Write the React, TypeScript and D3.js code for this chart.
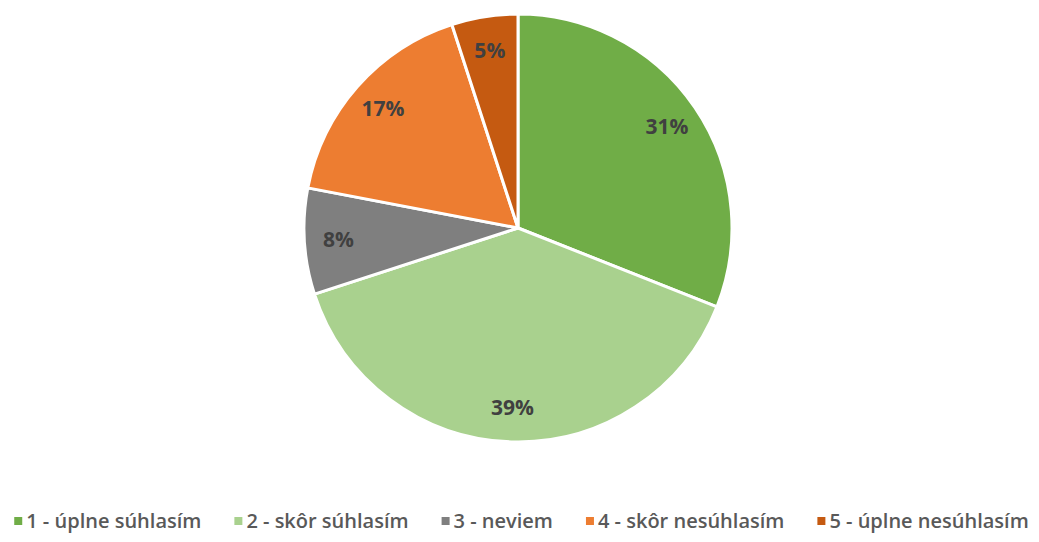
import React, { useRef, useEffect } from "react";
import * as d3 from "d3";

const categories = [
  "1 - úplne súhlasím",
  "2 - skôr súhlasím",
  "3 - neviem",
  "4 - skôr nesúhlasím",
  "5 - úplne nesúhlasím",
];
const values = [31, 39, 8, 17, 5];
const colors = ["#70ad47", "#a9d18e", "#7f7f7f", "#ed7d31", "#c55a11"];

const width = 1039;
const height = 542;

const App: React.FC = () => {
  const ref = useRef<SVGSVGElement | null>(null);

  useEffect(() => {
    const svg = d3.select(ref.current);
    svg.selectAll("*").remove();

    const cx = 518;
    const cy = 228;
    const radius = 214;

    const pie = d3
      .pie<number>()
      .value((d) => d)
      .sort(null);
    const arcs = pie(values);

    const arc = d3.arc<d3.PieArcDatum<number>>().innerRadius(0).outerRadius(radius);
    const labelArc = d3
      .arc<d3.PieArcDatum<number>>()
      .innerRadius(180)
      .outerRadius(180);

    const g = svg.append("g").attr("transform", `translate(${cx},${cy})`);

    g.selectAll("path")
      .data(arcs)
      .enter()
      .append("path")
      .attr("d", arc)
      .attr("fill", (d, i) => colors[i])
      .attr("stroke", "#ffffff")
      .attr("stroke-width", 3)
      .attr("stroke-linejoin", "round");

    g.selectAll("text")
      .data(arcs)
      .enter()
      .append("text")
      .attr("transform", (d) => `translate(${labelArc.centroid(d)})`)
      .attr("text-anchor", "middle")
      .attr("dy", "0.35em")
      .style("font-family", "'Open Sans', sans-serif")
      .style("font-size", "21px")
      .style("font-weight", "bold")
      .attr("fill", "#404040")
      .text((d) => `${d.data}%`);

    // legend
    const legend = svg.append("g");
    const items = legend
      .selectAll("g")
      .data(categories)
      .enter()
      .append("g");

    items
      .append("rect")
      .attr("width", 8)
      .attr("height", 8)
      .attr("y", -11)
      .attr("fill", (d, i) => colors[i]);

    const texts = items
      .append("text")
      .attr("x", 12)
      .style("font-family", "'Open Sans', sans-serif")
      .style("font-size", "20px")
      .style("font-weight", "600")
      .attr("fill", "#595959")
      .text((d) => d);

    const widths: number[] = [];
    texts.each(function () {
      widths.push((this as SVGTextElement).getComputedTextLength() + 12);
    });
    const gap = 33;
    const total = d3.sum(widths) + gap * (widths.length - 1);
    let x = width / 2 + 2 - total / 2;
    items.attr("transform", (d, i) => {
      const t = `translate(${x},${528})`;
      x += widths[i] + gap;
      return t;
    });
  }, []);

  return (
    <svg
      ref={ref}
      width={width}
      height={height}
      style={{ position: "absolute", left: 0, top: 0, background: "#ffffff" }}
    />
  );
};

export default App;
